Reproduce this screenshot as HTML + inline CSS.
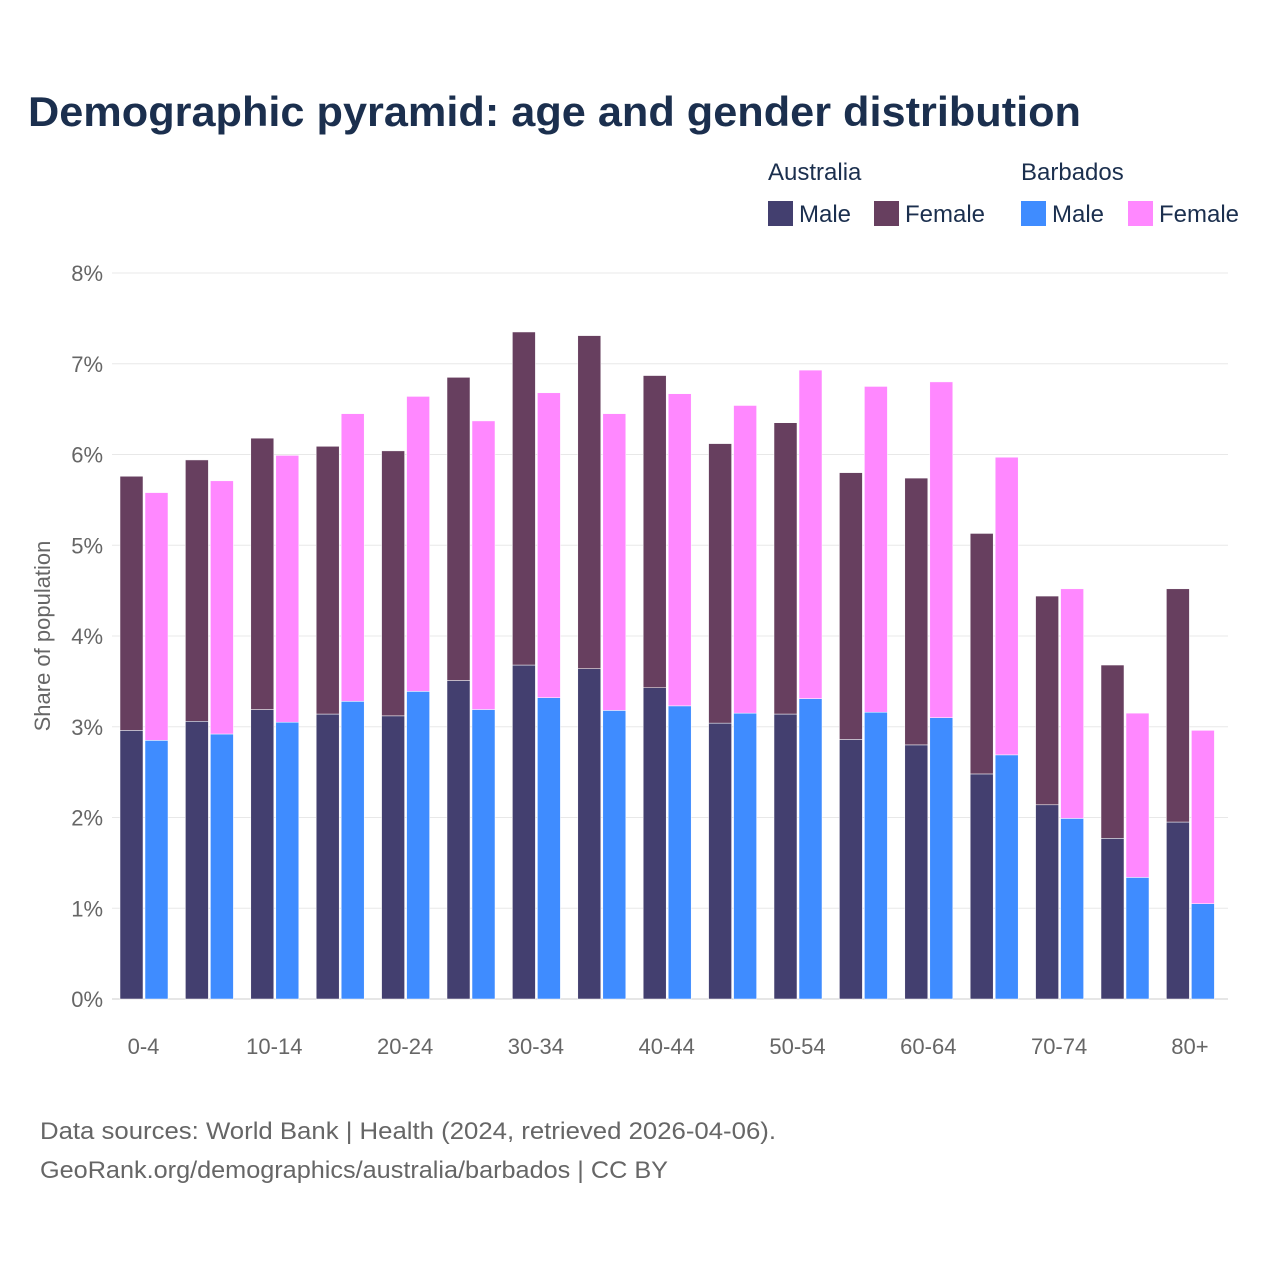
<!DOCTYPE html>
<html><head><meta charset="utf-8"><style>
body{margin:0;background:#fff;font-family:"Liberation Sans",sans-serif}
</style></head><body>
<svg width="1280" height="1280" xmlns="http://www.w3.org/2000/svg" style="font-family:'Liberation Sans',sans-serif">
<text x="28" y="126" font-size="42" font-weight="bold" fill="#1b2f4e" textLength="1053" lengthAdjust="spacingAndGlyphs">Demographic pyramid: age and gender distribution</text>
<g id="legend" font-size="24" fill="#1b2f4e">
<text x="768" y="180">Australia</text>
<text x="1021" y="180">Barbados</text>
<rect x="768" y="201" width="25" height="25" fill="#433f6f"/>
<text x="799" y="222">Male</text>
<rect x="874" y="201" width="25" height="25" fill="#673f5f"/>
<text x="905" y="222">Female</text>
<rect x="1021" y="201" width="25" height="25" fill="#3f8cff"/>
<text x="1052" y="222">Male</text>
<rect x="1128" y="201" width="25" height="25" fill="#ff88ff"/>
<text x="1159" y="222">Female</text>
</g>
<g id="grid"></g>
<g id="bars"></g>
<g id="axes"></g>
<text transform="translate(50,636) rotate(-90)" text-anchor="middle" font-size="22" fill="#666">Share of population</text>
<text x="40" y="1139" font-size="24" fill="#666" textLength="736" lengthAdjust="spacingAndGlyphs">Data sources: World Bank | Health (2024, retrieved 2026-04-06).</text>
<text x="40" y="1178" font-size="24" fill="#666" textLength="628" lengthAdjust="spacingAndGlyphs">GeoRank.org/demographics/australia/barbados | CC BY</text>
</svg>
<script>
const categories=["0-4","5-9","10-14","15-19","20-24","25-29","30-34","35-39","40-44","45-49","50-54","55-59","60-64","65-69","70-74","75-79","80+"];
const auMale=[2.96,3.06,3.19,3.14,3.12,3.51,3.68,3.64,3.43,3.04,3.14,2.86,2.80,2.48,2.14,1.77,1.95];
const auFemale=[2.80,2.88,2.99,2.95,2.92,3.34,3.67,3.67,3.44,3.08,3.21,2.94,2.94,2.65,2.30,1.91,2.57];
const bbMale=[2.85,2.92,3.05,3.28,3.39,3.19,3.32,3.18,3.23,3.15,3.31,3.16,3.10,2.69,1.99,1.34,1.05];
const bbFemale=[2.73,2.79,2.94,3.17,3.25,3.18,3.36,3.27,3.44,3.39,3.62,3.59,3.70,3.28,2.53,1.81,1.91];
const yTicks=[0,1,2,3,4,5,6,7,8];
const NS="http://www.w3.org/2000/svg";
const y0=999,yPer=90.75,x0=143.5,xStep=65.4;
const y=v=>y0-v*yPer;
const xc=i=>x0+i*xStep;
function mk(tag,attrs,parent){const e=document.createElementNS(NS,tag);for(const k in attrs)e.setAttribute(k,attrs[k]);document.getElementById(parent).appendChild(e);return e;}
yTicks.forEach(t=>{
 const l=mk('line',{x1:112,x2:1228,y1:y(t),y2:y(t),stroke:t===0?'#ccc':'#e8e8e8','stroke-width':1},'grid');
 
 
 const tx=mk('text',{x:103,y:y(t)+8,'text-anchor':'end','font-size':22,fill:'#666'},'axes');
 tx.textContent=t+'%';
 
 
});
function bar(x,v0,v,color,name){
 const r=mk('rect',{x:x,y:y(v0+v),width:23,height:v*yPer,fill:color,stroke:'#fff','stroke-width':0.5},'bars');
 
 
}
categories.forEach((c,i)=>{
 const cx=xc(i);
 bar(cx-23.5,0,auMale[i],'#433f6f','bar-au-male');
 bar(cx-23.5,auMale[i],auFemale[i],'#673f5f','bar-au-female');
 bar(cx+1.5,0,bbMale[i],'#3f8cff','bar-bb-male');
 bar(cx+1.5,bbMale[i],bbFemale[i],'#ff88ff','bar-bb-female');
 if(i%2===0){
  const t=mk('text',{x:cx,y:1054,'text-anchor':'middle','font-size':22,fill:'#666'},'axes');
  t.textContent=c;
  
  
 }
});
</script>
</body></html>
